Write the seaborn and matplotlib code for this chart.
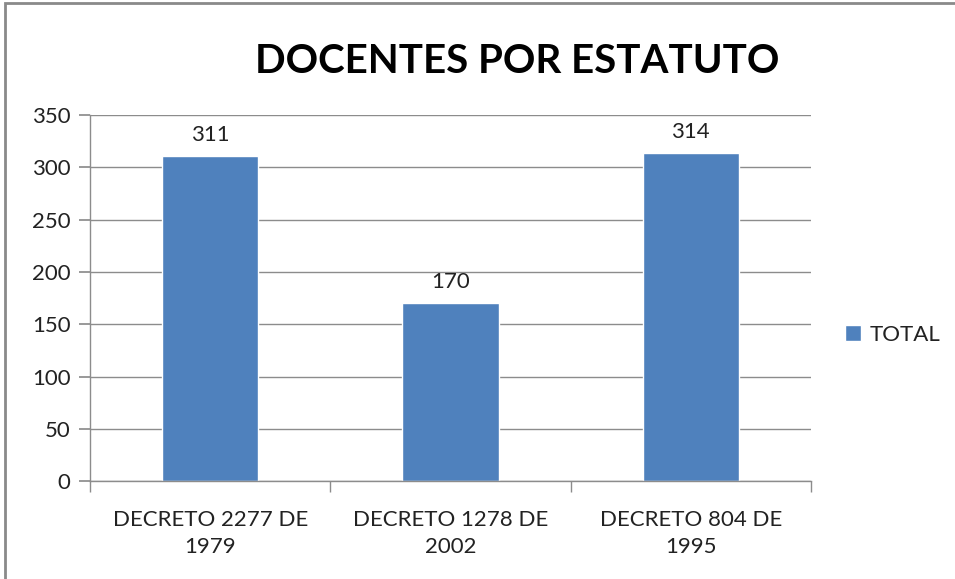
import matplotlib
matplotlib.use('Agg')
import matplotlib.pyplot as plt
from matplotlib.patches import Rectangle
import pandas as pd
import seaborn as sns

estatutos = ['DECRETO 2277 DE\n1979', 'DECRETO 1278 DE\n2002', 'DECRETO 804 DE\n1995']
totales = [311, 170, 314]
serie = 'TOTAL'

df = pd.DataFrame({'estatuto': estatutos, 'total': totales, 'serie': serie})

sns.set_theme(style='white')
plt.rcParams['font.family'] = ['Lato', 'DejaVu Sans']

fig = plt.figure(figsize=(9.55, 5.79), dpi=100)
ax = fig.add_axes([0.0942, 0.169, 0.755, 0.632])

sns.barplot(data=df, x='estatuto', y='total', hue='serie', palette=['#4F81BD'],
            width=0.4, saturation=1, ax=ax)

ax.bar_label(ax.containers[0], padding=8, fontsize=16, color='#222222')

# gridlines and axes
ax.set_ylim(0, 350)
ax.set_yticks(range(0, 351, 50))
ax.set_xlim(-0.5, 2.5)
ax.yaxis.grid(True, color='#8c8c8c', lw=1)
ax.set_axisbelow(True)
for s in ['top', 'right']:
    ax.spines[s].set_visible(False)
for s in ['left', 'bottom']:
    ax.spines[s].set_color('#8c8c8c')
    ax.spines[s].set_linewidth(1)

ax.set_xticks([-0.5, 0.5, 1.5, 2.5], minor=True)
ax.tick_params(axis='x', which='major', length=0, pad=21, labelsize=16, labelcolor='#222222')
ax.tick_params(axis='x', which='minor', length=8, color='#8c8c8c', direction='out', bottom=True)
ax.tick_params(axis='y', length=8, color='#8c8c8c', direction='out', left=True,
               labelsize=16, labelcolor='#222222', pad=6)
for t in ax.get_xticklabels():
    t.set_linespacing(1.4)
ax.set_xlabel('')
ax.set_ylabel('')

fig.text(0.542, 0.893, 'DOCENTES POR ESTATUTO', ha='center', va='center',
         fontsize=29, fontweight='bold', color='black')

ax.legend(loc='center left', bbox_to_anchor=(1.02, 0.40), frameon=False,
          fontsize=16, handlelength=0.7, handleheight=0.7, handletextpad=0.4,
          labelcolor='#222222')

# outer chart border
fig.add_artist(Rectangle((5 / 955, -0.1), 2, 1.1 - 3 / 579, transform=fig.transFigure,
                         fill=False, edgecolor='#8a8a8a', lw=2))

fig.savefig('out.png', dpi=100)
